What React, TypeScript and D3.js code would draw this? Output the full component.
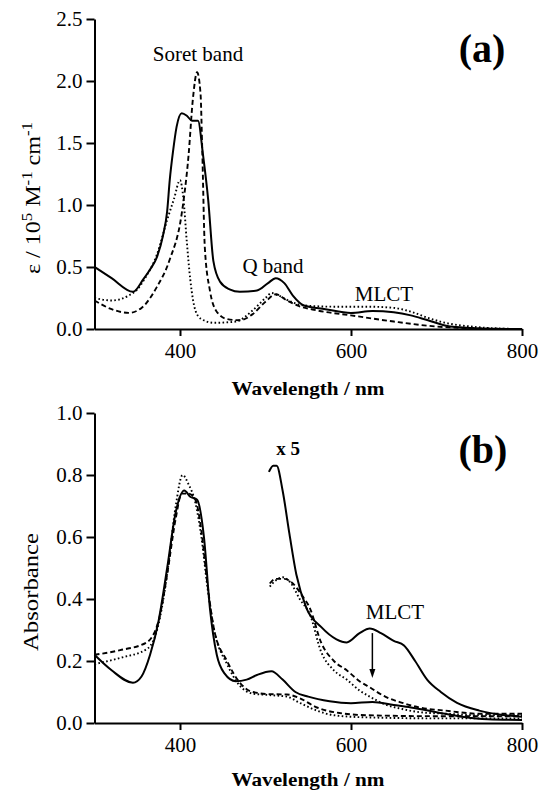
import React, { useEffect, useRef } from "react";
import * as d3 from "d3";

type Pt = [number, number];

// panel (a): epsilon / 10^5 M^-1 cm^-1 against wavelength (nm)
const solidA: Pt[] = [
  [300, 0.5], [320, 0.41], [345, 0.3], [357, 0.4], [365, 0.48], [373, 0.58], [380, 0.75],
  [385, 0.95], [388, 1.2], [392, 1.44], [396, 1.63], [402, 1.74], [408, 1.72], [414, 1.68],
  [421, 1.68], [427, 1.4], [433, 1.04], [439, 0.55], [447, 0.38], [458, 0.32], [470, 0.3],
  [490, 0.31], [503, 0.37], [512, 0.41], [522, 0.37], [532, 0.27], [545, 0.19], [570, 0.16],
  [600, 0.13], [625, 0.145], [650, 0.135], [670, 0.11], [690, 0.07], [716, 0.02], [750, 0.005],
  [800, 0],
];
const dashedA: Pt[] = [
  [300, 0.23], [320, 0.16], [340, 0.13], [355, 0.17], [373, 0.34], [388, 0.56], [402, 0.93],
  [410, 1.4], [415, 1.85], [420, 2.07], [424, 1.9], [426, 1.45], [429, 0.66], [435, 0.31],
  [442, 0.15], [455, 0.08], [470, 0.07], [485, 0.12], [500, 0.22], [512, 0.28], [525, 0.23],
  [537, 0.19], [560, 0.15], [600, 0.11], [650, 0.06], [700, 0.02], [750, 0.005], [800, 0],
];
const dottedA: Pt[] = [
  [300, 0.25], [320, 0.23], [340, 0.27], [350, 0.32], [360, 0.42], [373, 0.6], [385, 0.88],
  [393, 1.05], [400, 1.2], [404, 1.05], [408, 0.7], [412, 0.4], [418, 0.15], [425, 0.08],
  [440, 0.05], [465, 0.06], [485, 0.15], [500, 0.25], [507, 0.29], [515, 0.27], [530, 0.22],
  [545, 0.19], [580, 0.18], [620, 0.18], [650, 0.17], [670, 0.14], [690, 0.09], [710, 0.05],
  [740, 0.02], [770, 0.005], [800, 0],
];

// panel (b): absorbance
const solidB: Pt[] = [
  [300, 0.22], [320, 0.17], [345, 0.13], [355, 0.15], [365, 0.22], [375, 0.33], [385, 0.5],
  [395, 0.68], [405, 0.75], [412, 0.73], [420, 0.72], [428, 0.6], [435, 0.37], [443, 0.22],
  [452, 0.16], [465, 0.135], [478, 0.14], [490, 0.155], [507, 0.167], [520, 0.14], [535, 0.1],
  [550, 0.085], [575, 0.07], [600, 0.064], [625, 0.068], [650, 0.058], [670, 0.05], [700, 0.035],
  [730, 0.02], [760, 0.012], [800, 0.01],
];
const dashedB: Pt[] = [
  [300, 0.22], [330, 0.235], [361, 0.26], [375, 0.33], [385, 0.48], [395, 0.66], [402, 0.74],
  [410, 0.74], [418, 0.72], [425, 0.62], [432, 0.45], [440, 0.3], [455, 0.2], [470, 0.13],
  [485, 0.1], [505, 0.093], [525, 0.092], [540, 0.08], [560, 0.05], [580, 0.035], [620, 0.025],
  [700, 0.022], [800, 0.022],
];
const dottedB: Pt[] = [
  [300, 0.19], [330, 0.21], [362, 0.24], [375, 0.32], [385, 0.48], [395, 0.7], [403, 0.8],
  [410, 0.77], [418, 0.71], [425, 0.6], [432, 0.44], [440, 0.3], [455, 0.19], [470, 0.12],
  [485, 0.095], [505, 0.09], [525, 0.085], [540, 0.065], [560, 0.04], [580, 0.025], [620, 0.018],
  [700, 0.015], [800, 0.015],
];
// x 5 magnified traces
const solidB5: Pt[] = [
  [504, 0.81], [509, 0.83], [513, 0.83], [520, 0.75], [528, 0.61], [536, 0.48], [548, 0.37],
  [565, 0.31], [583, 0.27], [595, 0.26], [610, 0.29], [622, 0.305], [635, 0.29], [650, 0.265],
  [662, 0.25], [675, 0.2], [689, 0.14], [705, 0.1], [724, 0.065], [750, 0.04], [780, 0.025],
  [800, 0.02],
];
const dashedB5: Pt[] = [
  [505, 0.45], [512, 0.465], [522, 0.465], [532, 0.45], [543, 0.41], [552, 0.37], [565, 0.26],
  [580, 0.2], [595, 0.17], [610, 0.135], [622, 0.115], [640, 0.085], [660, 0.065], [680, 0.05],
  [710, 0.04], [750, 0.03], [800, 0.03],
];
const dottedB5: Pt[] = [
  [505, 0.44], [512, 0.46], [520, 0.47], [530, 0.45], [540, 0.4], [552, 0.35], [565, 0.23],
  [580, 0.17], [595, 0.14], [610, 0.105], [622, 0.085], [640, 0.06], [660, 0.045], [680, 0.035],
  [710, 0.03], [750, 0.025], [800, 0.025],
];

const xTicks = [400, 600, 800];
const yTicksA = [0, 0.5, 1.0, 1.5, 2.0, 2.5];
const yTicksB = [0, 0.2, 0.4, 0.6, 0.8, 1.0];

const W = 540;
const H = 792;
const left = 94.5;
const right = 522;
const font = "'Liberation Serif', 'DejaVu Serif', serif";

const x = d3.scaleLinear().domain([300, 800]).range([left, right]);
const yA = d3.scaleLinear().domain([0, 2.5]).range([329, 19]);
const yB = d3.scaleLinear().domain([0, 1.0]).range([723, 413]);

const styles: Record<string, string | undefined> = {
  solid: undefined,
  dashed: "5,3",
  dotted: "1.6,2.4",
};

const Axes = ({ y, yTicks }: { y: d3.ScaleLinear<number, number>; yTicks: number[] }) => {
  const xRef = useRef<SVGGElement>(null);
  const yRef = useRef<SVGGElement>(null);

  useEffect(() => {
    const xAxis = d3
      .axisBottom(x)
      .tickValues(xTicks)
      .tickSize(7)
      .tickSizeOuter(0)
      .tickPadding(7)
      .tickFormat(d3.format("d"));
    const gx = d3.select(xRef.current!);
    gx.selectAll("*").remove();
    gx.call(xAxis);
    gx.attr("font-family", font).attr("font-size", 21);
    gx.selectAll("path,line").attr("stroke", "black").attr("stroke-width", 2);

    const yAxis = d3
      .axisLeft(y)
      .tickValues(yTicks)
      .tickSize(8)
      .tickSizeOuter(0)
      .tickPadding(4)
      .tickFormat(d3.format(".1f"));
    const gy = d3.select(yRef.current!);
    gy.selectAll("*").remove();
    gy.call(yAxis);
    gy.attr("font-family", font).attr("font-size", 21);
    gy.selectAll("path,line").attr("stroke", "black").attr("stroke-width", 2);
  }, [y, yTicks]);

  return (
    <g>
      <g ref={xRef} transform={`translate(0,${y.range()[0]})`} />
      <g ref={yRef} transform={`translate(${left},0)`} />
    </g>
  );
};

const Trace = ({ data, y, kind }: { data: Pt[]; y: d3.ScaleLinear<number, number>; kind: string }) => {
  const line = d3
    .line<Pt>()
    .x((d) => x(d[0]))
    .y((d) => y(d[1]))
    .curve(d3.curveMonotoneX);
  return (
    <path
      d={line(data) || ""}
      fill="none"
      stroke="black"
      strokeWidth={kind === "solid" ? 2 : 1.9}
      strokeDasharray={styles[kind]}
    />
  );
};

export default function App() {
  const arrowX = x(625);
  const arrowTop = yB(0.29);
  const arrowTip = yB(0.145);

  return (
    <svg
      width={W}
      height={H}
      style={{ position: "absolute", left: 0, top: 0, background: "white" }}
      fontFamily={font}
    >
      {/* panel (a) */}
      <Axes y={yA} yTicks={yTicksA} />
      <Trace data={dottedA} y={yA} kind="dotted" />
      <Trace data={dashedA} y={yA} kind="dashed" />
      <Trace data={solidA} y={yA} kind="solid" />

      <text x={482} y={62} fontSize={40} fontWeight="bold" textAnchor="middle">(a)</text>
      <text x={198} y={61} fontSize={21} textAnchor="middle">Soret band</text>
      <text x={273} y={273} fontSize={21} textAnchor="middle">Q band</text>
      <text x={384} y={301} fontSize={21} textAnchor="middle">MLCT</text>
      <text x={308} y={395} fontSize={19} fontWeight="bold" textAnchor="middle"
        textLength={153} lengthAdjust="spacingAndGlyphs">Wavelength / nm</text>
      <text transform="translate(40,198) rotate(-90)" fontSize={20} textAnchor="middle"
        textLength={152} lengthAdjust="spacingAndGlyphs">
        ε / 10<tspan dy={-8} fontSize={14}>5</tspan>
        <tspan dy={8}> M</tspan>
        <tspan dy={-8} fontSize={14}>-1</tspan>
        <tspan dy={8}> cm</tspan>
        <tspan dy={-8} fontSize={14}>-1</tspan>
      </text>

      {/* panel (b) */}
      <Axes y={yB} yTicks={yTicksB} />
      <Trace data={dottedB} y={yB} kind="dotted" />
      <Trace data={dashedB} y={yB} kind="dashed" />
      <Trace data={solidB} y={yB} kind="solid" />
      <Trace data={dottedB5} y={yB} kind="dotted" />
      <Trace data={dashedB5} y={yB} kind="dashed" />
      <Trace data={solidB5} y={yB} kind="solid" />

      <line x1={arrowX} x2={arrowX} y1={arrowTop} y2={arrowTip - 6} stroke="black" strokeWidth={1.5} />
      <polygon
        points={`${arrowX - 3},${arrowTip - 9} ${arrowX + 3},${arrowTip - 9} ${arrowX},${arrowTip}`}
        fill="black"
      />

      <text x={483} y={463} fontSize={40} fontWeight="bold" textAnchor="middle">(b)</text>
      <text x={288} y={455} fontSize={19} fontWeight="bold" textAnchor="middle">x 5</text>
      <text x={395} y={619} fontSize={21} textAnchor="middle">MLCT</text>
      <text x={308} y={786} fontSize={19} fontWeight="bold" textAnchor="middle"
        textLength={153} lengthAdjust="spacingAndGlyphs">Wavelength / nm</text>
      <text transform="translate(38,592) rotate(-90)" fontSize={20} textAnchor="middle"
        textLength={118} lengthAdjust="spacingAndGlyphs">Absorbance</text>
    </svg>
  );
}
